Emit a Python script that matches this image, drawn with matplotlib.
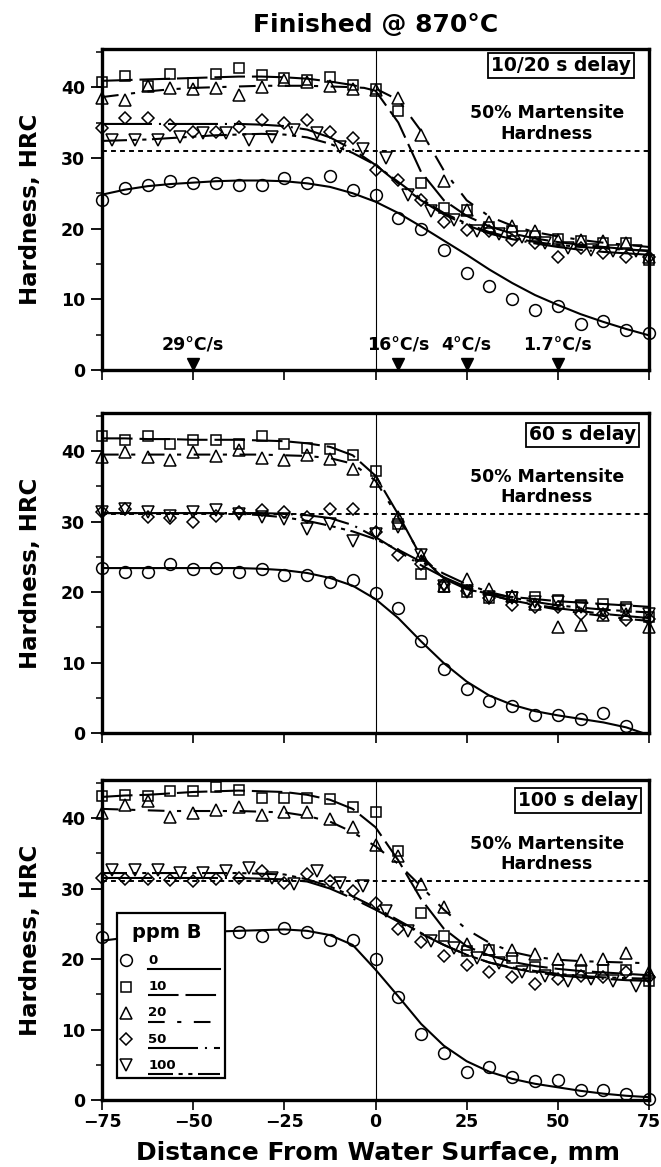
import numpy as np
import matplotlib
matplotlib.use('Agg')
import matplotlib.pyplot as plt
from matplotlib.patches import Rectangle

plt.rcParams['font.family'] = ['DejaVu Sans']
plt.rcParams['font.weight'] = 'bold'
plt.rcParams['lines.scale_dashes'] = False

# distance from water surface, mm (specimen positions)
X_GRID = [-75, -68.75, -62.5, -56.25, -50, -43.75, -37.5, -31.25, -25, -18.75, -12.5, -6.25,
          0, 6.25, 12.5, 18.75, 25, 31.25, 37.5, 43.75, 50, 56.25, 62.5, 68.75, 75]
# 100 ppm specimens were sampled slightly off the common grid
X_SHIFT = [-72.25, -66, -59.75, -53.5, -47.25, -41, -34.75, -28.5, -22.25, -16, -9.75, -3.5,
           2.75, 9, 15.25, 21.5, 27.75, 34, 40.25, 46.5, 52.75, 59, 65.25, 71.5]
X_P3_0 = [-75, -37.5, -31.25, -25, -18.75, -12.5, -6.25, 0, 6.25, 12.5, 18.75, 25, 31.25,
          37.5, 43.75, 50, 56.25, 62.5, 68.75, 75]

PPM = ['0', '10', '20', '50', '100']
DELAYS = ['10/20 s delay', '60 s delay', '100 s delay']
MARTENSITE_HRC = 31
COOL_X = [-50, 6.25, 25, 50]
COOL_LABELS = ['29°C/s', '16°C/s', '4°C/s', '1.7°C/s']

# ---- panel 1: 10/20 s delay ----
P1_0 = [24.0, 25.7, 26.2, 26.7, 26.4, 26.4, 26.2, 26.2, 27.1, 26.4, 27.4, 25.5, 24.8, 21.5,
        20.0, 17.0, 13.7, 11.9, 10.0, 8.5, 9.1, 6.5, 6.9, 5.6, 5.2]
P1_10 = [40.8, 41.6, 40.2, 41.9, 40.6, 41.9, 42.7, 41.7, 41.3, 41.0, 41.4, 40.3, 39.8, 36.7,
         26.4, 22.9, 22.6, 20.2, 19.7, 19.0, 18.5, 18.2, 18.0, 17.9, 15.6]
P1_20 = [38.4, 38.2, 40.1, 39.9, 39.7, 39.9, 38.9, 40.0, 41.0, 40.8, 40.1, 39.7, 39.6, 38.4,
         33.3, 26.7, 22.6, 21.0, 20.3, 19.6, 18.4, 18.4, 18.2, 17.9, 16.0]
P1_50 = [34.2, 35.6, 35.6, 34.7, 33.7, 33.7, 34.4, 35.4, 34.9, 35.4, 33.7, 32.8, 28.3, 26.9,
         24.1, 21.0, 19.8, 19.6, 18.4, 17.9, 16.0, 17.2, 16.5, 16.0, 16.0]
P1_100 = [32.5, 32.6, 32.6, 32.9, 33.5, 33.5, 32.5, 33.0, 34.0, 33.5, 31.6, 31.3, 30.0, 24.7,
          22.5, 21.2, 19.6, 19.3, 18.8, 18.0, 17.3, 17.0, 16.8, 16.8]
P1_0_FIT = [24.8, 25.5, 26.0, 26.3, 26.5, 26.7, 26.8, 26.8, 26.7, 26.4, 25.9, 25.0, 23.8, 22.2,
            20.3, 18.3, 16.3, 14.2, 12.3, 10.6, 9.2, 7.9, 6.8, 5.8, 4.9]
P1_10_FIT = [40.9, 41.0, 41.1, 41.2, 41.3, 41.4, 41.5, 41.5, 41.4, 41.2, 40.8, 40.3, 39.5, 35.0,
             28.0, 24.0, 21.8, 20.3, 19.3, 18.6, 18.1, 17.7, 17.4, 17.1, 16.8]
P1_20_FIT = [38.6, 39.0, 39.4, 39.7, 39.9, 40.0, 40.1, 40.2, 40.2, 40.2, 40.1, 40.0, 39.8, 38.2,
             33.8, 28.2, 24.0, 21.7, 20.4, 19.5, 18.9, 18.4, 18.0, 17.7, 17.4]
P1_50_FIT = [34.8, 34.8, 34.8, 34.8, 34.8, 34.8, 34.8, 34.7, 34.5, 34.0, 32.9, 31.2, 29.0, 26.4,
             24.0, 22.0, 20.5, 19.3, 18.5, 17.9, 17.4, 17.0, 16.7, 16.5, 16.3]
P1_100_FIT = [32.4, 32.5, 32.6, 32.8, 33.0, 33.2, 33.3, 33.4, 33.3, 32.9, 32.0, 30.7, 29.0, 26.6,
              24.2, 22.2, 20.7, 19.5, 18.7, 18.1, 17.7, 17.4, 17.2, 17.0, 16.9]

# ---- panel 2: 60 s delay ----
P2_0 = [23.4, 22.8, 22.8, 24.0, 23.3, 23.4, 22.8, 23.3, 22.4, 22.4, 21.4, 21.7, 19.8, 17.8,
        13.0, 9.1, 6.3, 4.5, 3.8, 2.6, 2.5, 2.0, 2.8, 1.0]
P2_10 = [42.2, 41.5, 42.2, 41.0, 41.5, 41.6, 41.0, 42.2, 41.0, 40.5, 40.3, 39.5, 37.2, 29.7,
         22.6, 20.7, 20.0, 19.1, 19.3, 19.3, 18.8, 18.1, 18.3, 17.9, 16.5]
P2_20 = [39.2, 39.8, 39.2, 38.7, 39.9, 39.3, 40.1, 39.0, 38.7, 39.5, 38.9, 37.5, 35.8, 30.6,
         25.2, 20.9, 21.9, 20.5, 19.5, 18.3, 15.0, 15.3, 16.7, 16.9, 15.0]
P2_50 = [31.3, 31.8, 30.7, 30.5, 29.9, 30.8, 31.3, 31.6, 31.3, 30.6, 31.8, 31.8, 28.5, 25.2,
         24.0, 21.2, 20.2, 19.1, 18.1, 17.9, 17.9, 16.9, 16.9, 16.0, 16.2]
P2_100 = [31.3, 31.8, 31.3, 30.8, 31.3, 31.6, 31.1, 30.6, 30.4, 29.0, 29.7, 27.3, 28.3, 29.2,
          25.2, 20.9, 20.0, 19.3, 19.1, 18.6, 18.6, 17.9, 17.4, 17.4, 16.9]
P2_0_FIT = [23.4, 23.4, 23.4, 23.4, 23.4, 23.4, 23.4, 23.3, 23.1, 22.7, 22.0, 20.9, 19.0, 16.3,
            13.0, 9.9, 7.3, 5.3, 4.0, 3.1, 2.5, 2.0, 1.5, 0.8, -0.3]
P2_10_FIT = [41.8, 41.8, 41.7, 41.7, 41.6, 41.6, 41.6, 41.5, 41.4, 41.1, 40.6, 39.4, 36.5, 31.0,
             25.0, 21.9, 20.4, 19.7, 19.3, 19.0, 18.7, 18.5, 18.3, 18.1, 17.9]
P2_20_FIT = [39.5, 39.5, 39.5, 39.5, 39.5, 39.5, 39.5, 39.5, 39.4, 39.3, 39.0, 38.2, 35.8, 30.6,
             25.2, 22.0, 20.6, 19.6, 18.8, 18.1, 17.5, 17.0, 16.6, 16.2, 15.9]
P2_50_FIT = [31.2, 31.2, 31.2, 31.2, 31.2, 31.2, 31.2, 31.2, 31.1, 30.9, 30.5, 29.5, 27.8, 25.8,
             23.8, 22.1, 20.7, 19.6, 18.8, 18.2, 17.7, 17.3, 16.9, 16.6, 16.3]
P2_100_FIT = [31.2, 31.2, 31.2, 31.2, 31.2, 31.2, 31.1, 30.9, 30.6, 30.1, 29.4, 28.6, 27.5, 26.0,
              24.3, 22.6, 21.1, 20.0, 19.2, 18.6, 18.1, 17.8, 17.5, 17.3, 17.1]

# ---- panel 3: 100 s delay ----
P3_0 = [23.1, 23.9, 23.3, 24.4, 23.8, 22.7, 22.7, 20.0, 14.6, 9.3, 6.6, 4.0, 4.7, 3.3, 2.7,
        2.8, 1.4, 1.4, 0.9, 0.2]
P3_10 = [43.1, 43.3, 43.2, 43.8, 43.8, 44.4, 44.0, 42.8, 42.9, 42.9, 42.7, 41.6, 40.8, 35.3,
         26.6, 23.3, 21.2, 21.3, 20.2, 18.8, 18.4, 18.4, 18.4, 18.4, 16.9]
P3_20 = [40.7, 41.9, 42.4, 40.2, 40.7, 41.2, 41.6, 40.5, 40.9, 40.9, 39.8, 38.7, 36.2, 34.6,
         30.7, 27.4, 22.1, 21.4, 21.3, 20.7, 20.0, 19.8, 20.0, 20.9, 18.1]
P3_50 = [31.5, 31.4, 31.3, 31.2, 31.1, 31.3, 31.5, 32.5, 30.8, 32.0, 31.1, 29.6, 28.0, 24.2,
         22.4, 20.5, 19.1, 18.1, 17.4, 16.5, 17.2, 17.6, 17.4, 18.1, 17.4]
P3_100 = [32.7, 32.7, 32.7, 32.2, 32.2, 32.5, 32.9, 31.5, 30.6, 32.5, 30.8, 30.4, 26.8, 24.0,
          22.6, 21.6, 20.2, 19.5, 18.1, 17.6, 16.9, 17.2, 16.9, 16.2]
P3_0_FIT = [22.6, 23.0, 23.3, 23.5, 23.7, 23.9, 24.0, 24.1, 24.2, 24.0, 23.4, 22.0, 18.5, 14.7,
            10.8, 7.7, 5.5, 4.0, 3.0, 2.3, 1.8, 1.3, 0.9, 0.6, 0.4]
P3_10_FIT = [43.0, 43.2, 43.3, 43.5, 43.7, 43.8, 43.9, 43.8, 43.7, 43.3, 42.6, 41.3, 38.7, 34.0,
             28.5, 24.3, 21.8, 20.5, 19.6, 19.0, 18.6, 18.3, 18.1, 17.9, 17.7]
P3_20_FIT = [41.3, 41.2, 41.1, 41.0, 41.0, 41.0, 41.0, 40.9, 40.8, 40.3, 39.5, 38.0, 36.0, 33.5,
             30.3, 27.0, 24.2, 22.3, 21.0, 20.3, 19.9, 19.7, 19.6, 19.5, 19.4]
P3_50_FIT = [31.5, 31.5, 31.5, 31.5, 31.5, 31.5, 31.5, 31.4, 31.3, 31.0, 30.0, 28.6, 27.0, 25.3,
             23.6, 22.0, 20.6, 19.5, 18.7, 18.1, 17.7, 17.4, 17.2, 17.0, 16.9]
P3_100_FIT = [32.2, 32.2, 32.2, 32.2, 32.2, 32.2, 32.2, 32.1, 32.0, 31.3, 30.3, 28.9, 27.3, 25.5,
              23.7, 22.0, 20.6, 19.5, 18.8, 18.3, 17.9, 17.6, 17.4, 17.3, 17.2]

MARKERS = ['o', 's', '^', 'D', 'v']
MSIZES = [8.5, 7.8, 9, 6.3, 9]
STYLES = ['-', (0, (22, 5)), (0, (12, 9, 3, 9)), (0, (36, 5, 1.5, 5)), (0, (18, 4, 3, 4, 3, 4))]

W, H = 661, 1167
fig = plt.figure(figsize=(W / 100, H / 100), dpi=100)


def make_axes(top, bottom):
    # pixel box -> figure fraction
    return fig.add_axes([102 / W, 1 - bottom / H, 547 / W, (bottom - top) / H])


def draw_panel(ax, pts, fits, delay, box_xy, show_xlabels):
    ax.set_xlim(-75, 75)
    ax.set_ylim(0, 45.4)
    ax.axvline(0, color='k', lw=0.8, zorder=1)
    ax.axhline(MARTENSITE_HRC, color='k', lw=1.4, ls=(0, (3.5, 3)), zorder=1)

    for k, (xs, ys) in enumerate(pts):
        ax.plot(xs, ys, ls='none', marker=MARKERS[k], ms=MSIZES[k], mfc='none',
                mec='k', mew=1.1, clip_on=False, zorder=3)
    for k, fit in enumerate(fits):
        ax.plot(X_GRID, fit, color='k', lw=1.5, ls=STYLES[k], zorder=2)

    for sp in ax.spines.values():
        sp.set_linewidth(2.4)
    ax.set_yticks([0, 10, 20, 30, 40])
    ax.set_yticks([5, 15, 25, 35, 45], minor=True)
    ax.set_xticks([-75, -50, -25, 0, 25, 50, 75])
    ax.tick_params(axis='y', which='major', direction='out', length=8, width=1.3,
                   labelsize=12.5, pad=4)
    ax.tick_params(axis='y', which='minor', direction='out', length=4, width=1.1)
    ax.tick_params(axis='x', direction='out', length=7.5, width=1.2, pad=2,
                   labelsize=12.5, labelbottom=show_xlabels)

    ax.text(box_xy[0], box_xy[1], delay, ha='right', va='center', fontsize=13.5, zorder=6,
            bbox=dict(boxstyle='square,pad=0.15', fc='white', ec='k', lw=1.3))
    ax.text(47, 34.9, '50% Martensite\nHardness', ha='center', va='center',
            fontsize=12.5, linespacing=1.2)

    cy = (ax.get_position().y0 + ax.get_position().y1) / 2
    fig.text(0.046, cy, 'Hardness, HRC', rotation=90, ha='center', va='center', fontsize=16.5)


ax1 = make_axes(49, 370)
draw_panel(ax1,
           [(X_GRID, P1_0), (X_GRID, P1_10), (X_GRID, P1_20), (X_GRID, P1_50), (X_SHIFT, P1_100)],
           [P1_0_FIT, P1_10_FIT, P1_20_FIT, P1_50_FIT, P1_100_FIT],
           DELAYS[0], (70.1, 43.1), False)
# cooling rate markers along the bottom of the first panel
ax1.plot(COOL_X, [0.02] * len(COOL_X), ls='none', marker='v', ms=8, color='k',
         transform=ax1.get_xaxis_transform(), clip_on=False, zorder=4)
for cx, lab in zip(COOL_X, COOL_LABELS):
    ax1.text(cx, 3.5, lab, ha='center', va='center', fontsize=12.5)

ax2 = make_axes(413, 733)
draw_panel(ax2,
           [(X_GRID[:24], P2_0), (X_GRID, P2_10), (X_GRID, P2_20), (X_GRID, P2_50), (X_GRID, P2_100)],
           [P2_0_FIT, P2_10_FIT, P2_20_FIT, P2_50_FIT, P2_100_FIT],
           DELAYS[1], (71.5, 42.3), False)

ax3 = make_axes(780, 1100)
draw_panel(ax3,
           [(X_P3_0, P3_0), (X_GRID, P3_10), (X_GRID, P3_20), (X_GRID, P3_50), (X_SHIFT, P3_100)],
           [P3_0_FIT, P3_10_FIT, P3_20_FIT, P3_50_FIT, P3_100_FIT],
           DELAYS[2], (72.0, 42.5), True)

# hand-built legend box, as in the original figure
ax3.add_patch(Rectangle((-71, 3.1), 29.6, 23.5, fc='white', ec='k', lw=1.6, zorder=5))
ax3.text(-57.3, 23.0, 'ppm B', ha='center', va='baseline', fontsize=14, zorder=6)
entry_y = [19.8, 16.1, 12.35, 8.65, 4.95]
for k, lab in enumerate(PPM):
    ey = entry_y[k]
    ax3.plot([-68.5], [ey], ls='none', marker=MARKERS[k], ms=MSIZES[k], mfc='none',
             mec='k', mew=1.1, zorder=6)
    ax3.text(-62.3, ey, lab, ha='left', va='center', fontsize=9.5, zorder=6)
    ax3.plot([-62.4, -42.7], [ey - 1.25, ey - 1.25], color='k', lw=1.5, ls=STYLES[k], zorder=6)

fig.text(375.5 / W, 1 - 25 / H, 'Finished @ 870°C', ha='center', va='center', fontsize=18)
fig.text(378 / W, 1 - 1153 / H, 'Distance From Water Surface, mm', ha='center', va='center',
         fontsize=18)

fig.savefig('out.png', dpi=100)
